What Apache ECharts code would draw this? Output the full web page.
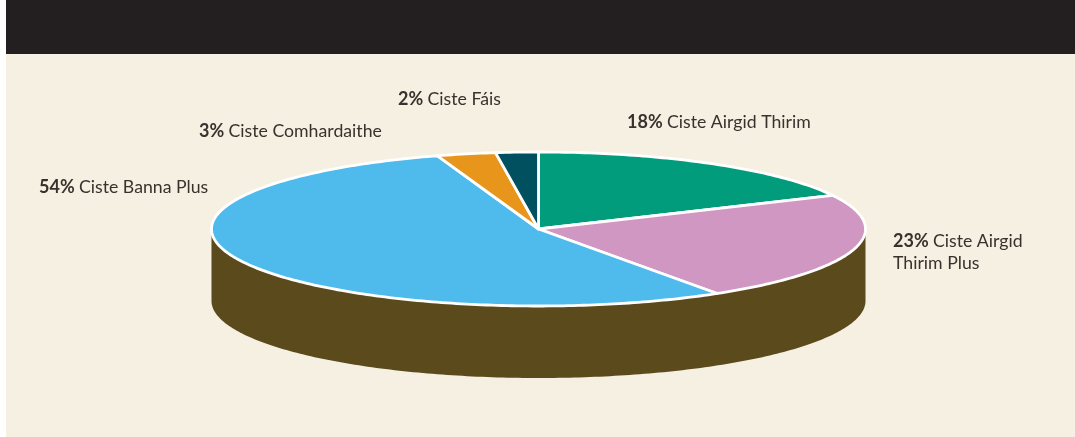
<!DOCTYPE html>
<html>
<head>
<meta charset="utf-8">
<style>
  html, body { margin: 0; padding: 0; background: #fff; }
  #chart { width: 1075px; height: 437px; }
</style>
<script src="https://cdn.jsdelivr.net/npm/echarts@6/dist/echarts.min.js"></script>
</head>
<body>
<div id="chart"></div>
<script>
const categories = ['Ciste Airgid Thirim', 'Ciste Airgid\nThirim Plus', 'Ciste Banna Plus', 'Ciste Comhardaithe', 'Ciste Fáis']
// labels show them rounded
const shares = [17.8, 23, 54.2, 2.9, 2.1]
const sliceColors = ['#009c7c', '#d197c3', '#4fbaec', '#e8951b', '#005060']
// left edge and vertical middle of each label's first line
const labelAnchors = [[627, 122], [893, 241], [39, 187], [199, 131], [398, 99]]

const center = [538.5, 229]
const radiusX = 327
const radiusY = 77
const depth = 72
const squash = radiusY / radiusX
const textColor = '#38322f'

const chart = echarts.init(document.getElementById('chart'))

// polar axis gives the circle, y is flattened to get the tilted disc
const rimPoint = (api, pct, drop = 0) => {
  const p = api.coord([1, pct])
  return [p[0], center[1] + (p[1] - center[1]) * squash + drop]
}

const arc = (api, from, to, drop = 0) => {
  const pts = []
  const steps = Math.max(2, Math.ceil(Math.abs(to - from) * 4))
  for (let i = 0; i <= steps; i++) pts.push(rimPoint(api, from + (to - from) * i / steps, drop))
  return pts
}

const renderWall = (params, api) => ({
  type: 'polygon',
  shape: { points: [...arc(api, 25, 75), ...arc(api, 75, 25, depth)] },
  style: { fill: '#5b4a1c' }
})

const renderSlice = (params, api) => {
  const i = params.dataIndex
  const start = shares.slice(0, i).reduce((a, b) => a + b, 0)
  const lines = categories[i].split('\n')
  const text = lines.map((line, n) => (n === 0 ? `{b|${Math.round(shares[i])}%} {n|${line}}` : `{n|${line}}`)).join('\n')
  return {
    type: 'group',
    children: [
      {
        type: 'polygon',
        shape: { points: [center, ...arc(api, start, start + shares[i])] },
        style: { fill: sliceColors[i], stroke: '#fff', lineWidth: 2.8, lineJoin: 'round' }
      },
      {
        type: 'text',
        x: labelAnchors[i][0],
        y: labelAnchors[i][1] - 11,
        style: {
          text,
          fill: textColor,
          align: 'left',
          verticalAlign: 'top',
          rich: {
            b: { fontFamily: 'Lato', fontWeight: 'bold', fontSize: 18, lineHeight: 22, fill: textColor, padding: [0, 1, 0, 0] },
            n: { fontFamily: 'Lato', fontSize: 17.7, lineHeight: 22, fill: textColor }
          }
        }
      }
    ]
  }
}

chart.setOption({
  animation: false,
  backgroundColor: '#fff',
  polar: { center, radius: [0, radiusX] },
  angleAxis: { type: 'value', min: 0, max: 100, startAngle: 90, show: false },
  radiusAxis: { type: 'value', min: 0, max: 1, show: false },
  graphic: [
    { type: 'rect', shape: { x: 6, y: 54, width: 1069, height: 383 }, style: { fill: '#f5f0e1' }, silent: true },
    { type: 'rect', shape: { x: 6, y: 0, width: 1069, height: 54 }, style: { fill: '#231f20' }, silent: true }
  ],
  series: [
    {
      type: 'custom',
      coordinateSystem: 'polar',
      silent: true,
      renderItem: renderWall,
      data: [[1, 25]]
    },
    {
      type: 'custom',
      coordinateSystem: 'polar',
      silent: true,
      renderItem: renderSlice,
      data: shares.map((v, i) => [1, v, categories[i]])
    }
  ]
})

window.addEventListener('resize', () => chart.resize())
</script>
</body>
</html>
